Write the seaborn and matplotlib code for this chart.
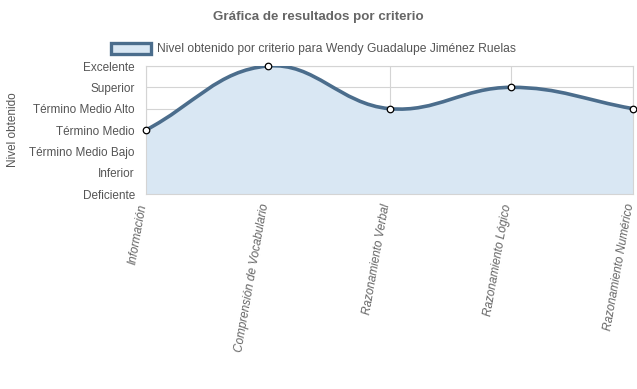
import numpy as np
import pandas as pd
import matplotlib
matplotlib.use("Agg")
import matplotlib.pyplot as plt
import matplotlib.transforms as mtransforms
from matplotlib.path import Path
from matplotlib.patches import PathPatch, Patch
import seaborn as sns

# Datos
criterios = ["Información", "Comprensión de Vocabulario", "Razonamiento Verbal",
             "Razonamiento Lógico", "Razonamiento Numérico"]
niveles = ["Deficiente", "Inferior", "Término Medio Bajo", "Término Medio",
           "Término Medio Alto", "Superior", "Excelente"]
puntaje = [3, 6, 4, 5, 4]
serie = "Nivel obtenido por criterio para Wendy Guadalupe Jiménez Ruelas"

df = pd.DataFrame({"x": range(len(criterios)), "y": puntaje})

sns.set_style("white")
plt.rcParams['font.family'] = ['Liberation Sans', 'DejaVu Sans']

LINE = "#4b6d8c"
FILL = "#d9e7f3"
GRID = "#d4d4d4"
TXT = "#666666"


def curva_spline(xs, ys, sx, sy, t=0.4):
    # control points al estilo Chart.js (tension 0.4), en espacio de pixeles
    px = np.array(xs, float) * sx
    py = np.array(ys, float) * sy
    n = len(px)
    ctrl = []
    for i in range(n):
        p0 = (px[max(i - 1, 0)], py[max(i - 1, 0)])
        p1 = (px[i], py[i])
        p2 = (px[min(i + 1, n - 1)], py[min(i + 1, n - 1)])
        d01 = np.hypot(p1[0] - p0[0], p1[1] - p0[1])
        d12 = np.hypot(p2[0] - p1[0], p2[1] - p1[1])
        tot = d01 + d12 if d01 + d12 > 0 else 1
        fa = t * d01 / tot
        fb = t * d12 / tot
        prev = (p1[0] - fa * (p2[0] - p0[0]), p1[1] - fa * (p2[1] - p0[1]))
        nxt = (p1[0] + fb * (p2[0] - p0[0]), p1[1] + fb * (p2[1] - p0[1]))
        ctrl.append((prev, nxt))
    verts = [(px[0] / sx, py[0] / sy)]
    codes = [Path.MOVETO]
    for i in range(n - 1):
        c1 = ctrl[i][1]
        c2 = ctrl[i + 1][0]
        verts += [(c1[0] / sx, c1[1] / sy), (c2[0] / sx, c2[1] / sy),
                  (px[i + 1] / sx, py[i + 1] / sy)]
        codes += [Path.CURVE4] * 3
    return verts, codes


fig = plt.figure(figsize=(6.37, 3.89), dpi=100)
ax = fig.add_axes([146 / 637, 1 - 194 / 389, 487 / 637, 128 / 389])

verts, codes = curva_spline(df["x"], df["y"], 121.75, 21.33)

# relleno bajo la curva
fv = verts + [(df["x"].iloc[-1], 0), (df["x"].iloc[0], 0), verts[0]]
fc = codes + [Path.LINETO, Path.LINETO, Path.CLOSEPOLY]
ax.add_patch(PathPatch(Path(fv, fc), facecolor=FILL, edgecolor="none", zorder=1))
ax.add_patch(PathPatch(Path(verts, codes), facecolor="none", edgecolor=LINE,
                       lw=2.6, zorder=3, capstyle="round"))

sns.scatterplot(data=df, x="x", y="y", ax=ax, s=22, color="white",
                edgecolor="black", linewidth=0.9, zorder=4, legend=False, clip_on=False)

ax.set_xlim(0, len(criterios) - 1)
ax.set_ylim(0, len(niveles) - 1)
ax.set_xticks(range(len(criterios)))
ax.set_xticklabels([])
# etiquetas del eje x a mano para poder desplazarlas un poco a la izquierda
trans = ax.get_xaxis_transform() + mtransforms.ScaledTranslation(-3 / 100, -10 / 100, fig.dpi_scale_trans)
for i, c in enumerate(criterios):
    ax.text(i, 0, c, transform=trans, rotation=80, ha="right", va="center",
            rotation_mode="anchor", fontsize=8.5, color=TXT, style="italic")
ax.set_yticks(range(len(niveles)))
ax.set_yticklabels(niveles, fontsize=8.5, color="#555555")
ax.tick_params(axis="both", length=7, color=GRID, width=1, pad=1)
ax.grid(True, color=GRID, lw=0.8, zorder=0)
ax.set_axisbelow(True)
for s in ax.spines.values():
    s.set_color(GRID)
    s.set_linewidth(0.8)
ax.set_xlabel("")
ax.set_ylabel("Nivel obtenido", fontsize=8.5, color="#555555")
ax.yaxis.set_label_coords(-0.26, 0.5)

fig.text(0.5, 1 - 17 / 389, "Gráfica de resultados por criterio", ha="center",
         va="center", fontsize=9.6, fontweight="bold", color=TXT)

handle = Patch(facecolor=FILL, edgecolor=LINE, linewidth=2.4)
fig.legend([handle], [serie], loc="center", bbox_to_anchor=(0.492, 1 - 49 / 389),
           frameon=False, fontsize=8.7, handlelength=3.3, handleheight=1.0,
           handletextpad=0.5, labelcolor="#555555")

fig.savefig("out.png", dpi=100)
